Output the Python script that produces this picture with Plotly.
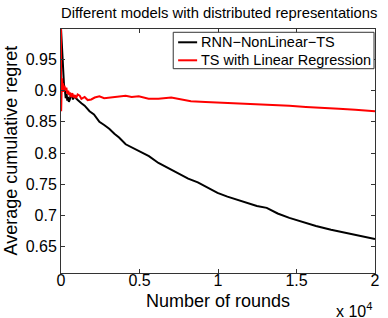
import plotly.graph_objects as go

rnn_x = [0, 20, 40, 63, 100, 144, 200, 251, 300, 357, 400, 439, 500, 564, 620, 690, 760, 878, 950,
         1066, 1191, 1300, 1505, 1818, 2100, 2445, 2750, 3072, 3400, 3699, 4119, 4500, 4953, 5600,
         6207, 6800, 7461, 8100, 8715, 9300, 9969, 10600, 11223, 11850, 12476, 13103, 13800, 14545,
         15400, 16238, 17200, 18119, 19100, 20000]
rnn_y = [1.0, 0.99, 0.97, 0.955, 0.935, 0.925, 0.905, 0.9, 0.888, 0.895, 0.884, 0.89, 0.882, 0.886,
         0.894, 0.893, 0.886, 0.892, 0.888, 0.885, 0.883, 0.88, 0.876, 0.867, 0.862, 0.85, 0.845,
         0.839, 0.831, 0.825, 0.814, 0.809, 0.804, 0.795, 0.784, 0.776, 0.767, 0.759, 0.753, 0.745,
         0.736, 0.73, 0.725, 0.72, 0.715, 0.712, 0.703, 0.696, 0.689, 0.683, 0.677, 0.672, 0.666, 0.662]

lin_x = [0, 10, 25, 45, 70, 100, 130, 170, 220, 280, 340, 400, 460, 520, 564, 640, 720, 800, 878,
         960, 1060, 1191, 1300, 1505, 1700, 1925, 2150, 2445, 2750, 3072, 3500, 4119, 4500, 4953,
         5580, 6207, 7022, 7600, 8276, 9200, 10157, 11300, 12476, 13500, 14545, 15600, 16677, 17700,
         18746, 20000]
lin_y = [1.0, 0.867, 0.93, 0.905, 0.92, 0.9, 0.912, 0.898, 0.908, 0.9, 0.905, 0.895, 0.9, 0.893,
         0.897, 0.89, 0.896, 0.889, 0.893, 0.888, 0.894, 0.892, 0.887, 0.89, 0.885, 0.886, 0.889,
         0.891, 0.888, 0.889, 0.891, 0.892, 0.89, 0.891, 0.887, 0.887, 0.889, 0.886, 0.883, 0.882,
         0.881, 0.88, 0.878, 0.877, 0.876, 0.874, 0.872, 0.871, 0.8695, 0.867]

series_names = ["RNN\u2212NonLinear\u2212TS", "TS with Linear Regression"]
series_colors = ["#000000", "#ff0000"]

x_tickvals = [0, 5000, 10000, 15000, 20000]
x_ticktext = ["0", "0.5", "1", "1.5", "2"]
y_tickvals = [0.65, 0.7, 0.75, 0.8, 0.85, 0.9, 0.95]
y_ticktext = ["0.65", "0.7", "0.75", "0.8", "0.85", "0.9", "0.95"]

FONT = "Liberation Sans, Arial, Helvetica, sans-serif"
AXC = "#333333"

fig = go.Figure()
for xs, ys, nm, col in [(rnn_x, rnn_y, series_names[0], series_colors[0]),
                        (lin_x, lin_y, series_names[1], series_colors[1])]:
    fig.add_trace(go.Scatter(x=xs, y=ys, mode="lines", name=nm,
                             line=dict(color=col, width=2), showlegend=False))

axis_common = dict(showline=True, linecolor=AXC, linewidth=1, mirror="ticks",
                   ticks="inside", ticklen=4, tickcolor=AXC, showgrid=False, zeroline=False,
                   tickfont=dict(family=FONT, size=16, color="#000"))

fig.update_xaxes(range=[0, 20000], tickvals=x_tickvals, ticktext=x_ticktext,
                 ticklabelstandoff=-7, **axis_common)
fig.update_yaxes(range=[0.6075, 0.999], tickvals=y_tickvals, ticktext=y_ticktext, **axis_common)

# legend box drawn in paper coordinates (MATLAB-style compact legend)
shapes = [dict(type="rect", xref="paper", yref="paper", x0=0.3574, x1=0.9969, y0=0.8373, y1=0.9865,
               line=dict(color=AXC, width=1), fillcolor="white", layer="above")]
legend_rows = [0.9455, 0.8717]
annotations = []
for nm, col, yr in zip(series_names, series_colors, legend_rows):
    shapes.append(dict(type="line", xref="paper", yref="paper", x0=0.373, x1=0.4335, y0=yr, y1=yr,
                       line=dict(color=col, width=2), layer="above"))
    annotations.append(dict(text=nm, xref="paper", yref="paper", x=0.442, y=yr, xshift=-1,
                            showarrow=False, xanchor="left", yanchor="middle",
                            font=dict(family=FONT, size=14.5, color="#000")))

annotations += [
    dict(text="Different models with distributed representations", xref="paper", yref="paper",
         x=0.5, y=1, yshift=16, xshift=1, showarrow=False, xanchor="center", yanchor="middle",
         font=dict(family=FONT, size=14.8, color="#000")),
    dict(text="Number of rounds", xref="paper", yref="paper", x=0.5, y=0, yshift=-27.5,
         showarrow=False, xanchor="center", yanchor="middle",
         font=dict(family=FONT, size=18, color="#000")),
    dict(text="Average cumulative regret", xref="paper", yref="paper", x=0, xshift=-50.5,
         y=0.5, textangle=-90, showarrow=False, xanchor="center", yanchor="middle",
         font=dict(family=FONT, size=18, color="#000")),
    dict(text="x 10<sup>4</sup>", xref="paper", yref="paper", x=1, xshift=-1, y=0, yshift=-37,
         showarrow=False, xanchor="right", yanchor="middle",
         font=dict(family=FONT, size=16, color="#000")),
]

fig.update_layout(
    width=388, height=318,
    margin=dict(l=61, r=8, t=29, b=45),
    paper_bgcolor="white", plot_bgcolor="white",
    font=dict(family=FONT, color="#000"),
    showlegend=False,
    shapes=shapes,
    annotations=annotations,
)

fig.write_html("out.html", config={"displayModeBar": False},
               post_script="document.body.style.margin='0';document.body.style.overflow='hidden';")
